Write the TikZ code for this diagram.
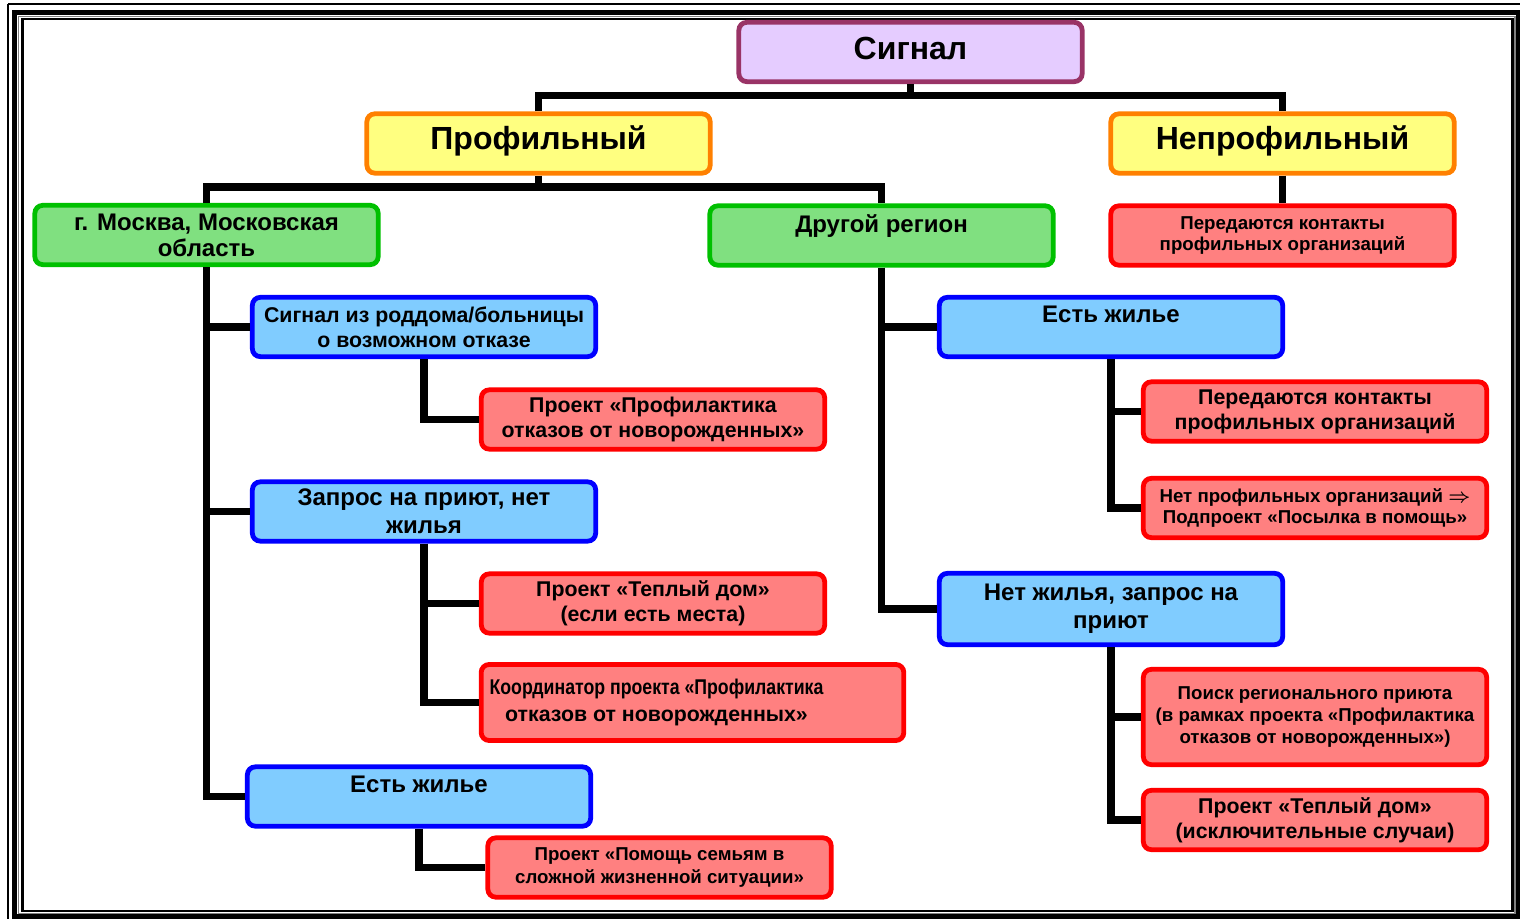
\documentclass[tikz,border=0pt]{standalone}
\usepackage{fontspec}
\setmainfont{Liberation Sans}
\usepackage{graphicx}
\definecolor{sigline}{HTML}{993366}
\definecolor{sigfill}{HTML}{E5CCFF}
\definecolor{profline}{HTML}{FF8000}
\definecolor{proffill}{HTML}{FFFF80}
\definecolor{regline}{HTML}{00C000}
\definecolor{regfill}{HTML}{80E080}
\definecolor{caseline}{HTML}{0000FF}
\definecolor{casefill}{HTML}{80CCFF}
\definecolor{projline}{HTML}{FF0000}
\definecolor{projfill}{HTML}{FF8080}
\newcommand{\fsz}[2]{\bfseries\fontsize{#1pt}{#2pt}\selectfont}

\begin{document}
\begin{tikzpicture}[x=0.75pt,y=-0.75pt,
    box/.style={draw, line width=3.6pt, rounded corners=6pt, minimum width=257.5pt,
        minimum height=44.5pt, inner sep=1pt, align=center},
    sigbox/.style={box, draw=sigline, fill=sigfill, font=\fsz{24}{28}, text depth=6pt},
    profbox/.style={box, draw=profline, fill=proffill, font=\fsz{24}{28}, text depth=8.5pt},
    regbox/.style={box, draw=regline, fill=regfill, font=\fsz{18}{19.5}},
    casebox/.style={box, draw=caseline, fill=casefill, font=\fsz{18}{20.8}},
    projbox/.style={box, draw=projline, fill=projfill, font=\fsz{16}{18.8}},
    smalltext/.style={font=\fsz{14}{16.2}},
    raised/.style={text depth=18.5pt},
    link/.style={line width=5.5pt}]
\useasboundingbox (0,0) rectangle (1520,919);

% frame
\draw[line width=1.5pt] (8,4) -- (8,930);
\draw[line width=1.5pt] (8,4) -- (1530,4);
\draw[line width=3.75pt] (14.5,12.5) rectangle (1518,916.5);
\draw[line width=1pt, gray] (18.5,16.5) rectangle (1515,913.5);
\draw[line width=2pt] (22.5,19) rectangle (1512.5,911);

% top levels
\node[sigbox] (sig) at (910.5,52) {Сигнал};
\node[profbox] (prof) at (538.5,143.5) {Профильный};
\node[profbox] (nonprof) at (1282.5,143.5) {Непрофильный};

\node[regbox] (moscow) at (206.5,235) {г. Москва, Московская\\область};
\node[regbox, raised] (other) at (881.5,235.5) {Другой регион};
\node[projbox, smalltext] (contacts1) at (1282.5,235.5) {Передаются контакты\\профильных организаций};

% Moscow branch
\node[casebox, font=\fsz{16}{18.8}] (hosp) at (424,327) {Сигнал из роддома/больницы\\о возможном отказе};
\node[projbox] (prevent) at (653,419.5) {Проект «Профилактика\\отказов от новорожденных»};
\node[casebox] (shelter) at (424,511.5) {Запрос на приют, нет\\жилья};
\node[projbox] (warm1) at (653,603.5) {Проект «Теплый дом»\\(если есть места)};
\node[projbox, font=\fsz{16}{20}, minimum width=317pt, minimum height=57pt] (coord) at (692.5,702.5)
    {\scalebox{0.83}[1]{Координатор проекта «Профилактика}\hspace*{54pt}\\отказов от новорожденных»\hspace*{54pt}};
\node[casebox, raised] (home1) at (419,796.5) {Есть жилье};
\node[projbox, font=\fsz{14}{17.2}] (help) at (659.5,867.5) {Проект «Помощь семьям в\\сложной жизненной ситуации»};

% other region branch
\node[casebox, raised] (home2) at (1111,327) {Есть жилье};
\node[projbox] (contacts2) at (1315,411.5) {Передаются контакты\\профильных организаций};
\node[projbox, smalltext] (noorg) at (1315,508) {Нет профильных организаций {\boldmath$\Rightarrow$}\\Подпроект «Посылка в помощь»};
\node[casebox, minimum height=53.5pt] (nohome) at (1111,609) {Нет жилья, запрос на\\приют};
\node[projbox, smalltext, minimum height=71.5pt] (search) at (1315,717) {Поиск регионального приюта\\(в рамках проекта «Профилактика\\отказов от новорожденных»)};
\node[projbox] (warm2) at (1315,820) {Проект «Теплый дом»\\(исключительные случаи)};

% connectors
\draw[link] (sig.south) -- ++(0,15);
\draw[link] (prof.north) -- ++(0,-16) -| (nonprof.north);
\draw[link] (prof.south) -- ++(0,14);
\draw[link] (moscow.north) -- ++(0,-16) -| (other.north);
\draw[link] (nonprof.south) -- (contacts1.north);

\draw[link] (moscow.south) |- (hosp.west);
\draw[link] (moscow.south) |- (shelter.west);
\draw[link] (moscow.south) |- (home1.west);
\draw[link] (hosp.south) |- (prevent.west);
\draw[link] (shelter.south) |- (warm1.west);
\draw[link] (shelter.south) |- (coord.west);
\draw[link] (home1.south) |- (help.west);

\draw[link] (other.south) |- (home2.west);
\draw[link] (other.south) |- (nohome.west);
\draw[link] (home2.south) |- (contacts2.west);
\draw[link] (home2.south) |- (noorg.west);
\draw[link] (nohome.south) |- (search.west);
\draw[link] (nohome.south) |- (warm2.west);
\end{tikzpicture}
\end{document}
